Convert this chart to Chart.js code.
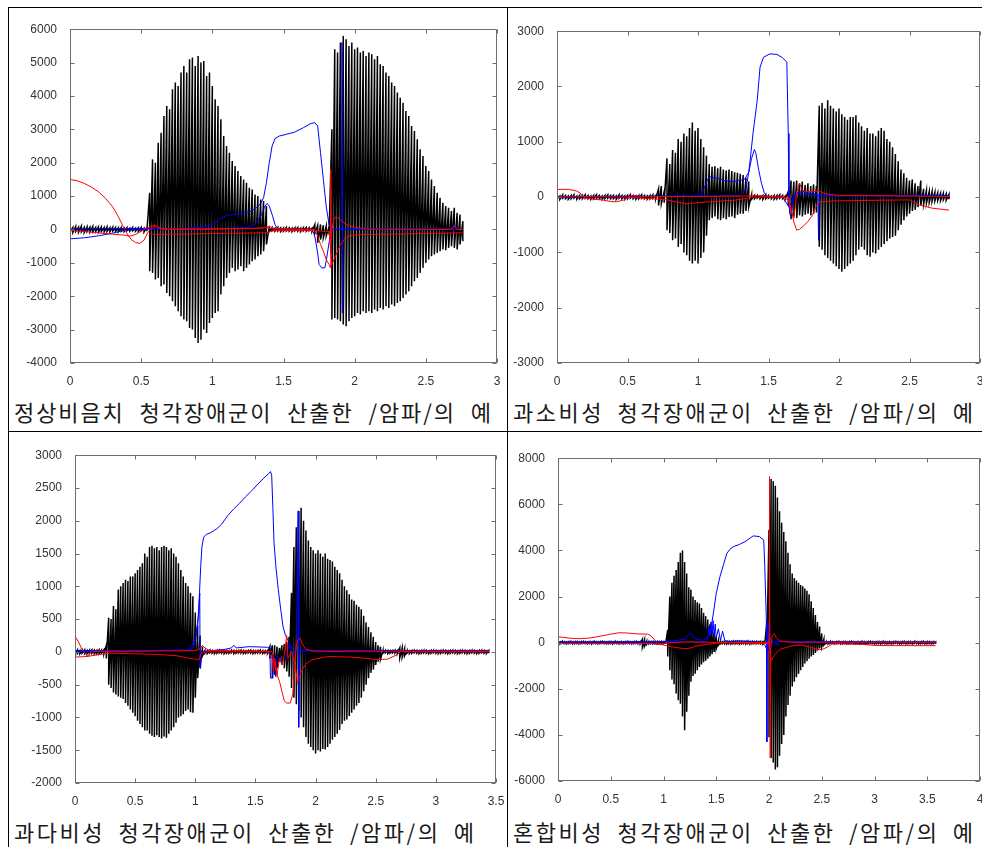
<!DOCTYPE html>
<html>
<head>
<meta charset="utf-8">
<script src="https://cdn.jsdelivr.net/npm/chart.js@4.4.0/dist/chart.umd.min.js"></script>
<style>
  body { margin: 0; background: #fff; width: 982px; height: 847px; overflow: hidden; position: relative; }
  .rule { position: absolute; background: #000; }
  canvas { position: absolute; }
  .cap { position: absolute; font-family: "Noto Sans CJK KR", sans-serif; font-size: 22px; line-height: 24px;
         letter-spacing: 2.5px; word-spacing: 6px; color: #1a1a1a; white-space: nowrap; }
</style>
</head>
<body>
<div class="rule" style="left:8px;top:7px;width:974px;height:1px"></div>
<div class="rule" style="left:8px;top:431px;width:974px;height:1px"></div>
<div class="rule" style="left:8px;top:7px;width:1px;height:840px"></div>
<div class="rule" style="left:507px;top:7px;width:1px;height:840px"></div>
<div class="cap" style="left:14px;top:399px;letter-spacing:1.9px;word-spacing:8px">정상비음치 청각장애군이 산출한 /암파/의 예</div>
<div class="cap" style="left:513px;top:399px">과소비성 청각장애군이 산출한 /암파/의 예</div>
<div class="cap" style="left:14px;top:819px">과다비성 청각장애군이 산출한 /암파/의 예</div>
<div class="cap" style="left:513px;top:819px">혼합비성 청각장애군이 산출한 /암파/의 예</div>
<script>
// sample spacing of the waveform envelopes (seconds)
const waveStep = 0.02;

// ---- panel 1 : 정상비음치 ----
const p1Hi = [80,60,90,70,100,60,80,70,90,60,80,70,60,80,50,70,60,50,60,40,50,40,60,40,50,60,40,60,
  1100,2100,2000,2600,2900,3400,3700,3600,4200,4400,4300,4700,4900,4700,5100,5150,4900,5200,5000,5050,
  4600,4700,4300,3900,3700,3300,2800,2500,2300,2050,1900,1750,1600,1500,1400,1250,1200,1050,1000,900,850,700,
  80,50,40,60,50,40,60,50,40,50,60,40,50,60,50,40,150,120,150,130,100,80,
  3000,5400,5300,5600,5800,5700,5500,5600,5400,5450,5300,5350,5200,5300,5250,5100,5200,4950,4900,4700,
  4600,4400,4300,4100,3950,3800,3550,3400,3100,2950,2700,2400,2200,1900,1750,1500,1300,1100,950,800,
  700,650,550,650,500,450,250];
const p1Lo = [-70,-90,-60,-80,-70,-90,-60,-80,-70,-60,-80,-60,-70,-60,-70,-50,-60,-70,-50,-60,-40,-50,-40,-50,-60,-40,-80,-50,
  -1250,-1300,-1500,-1450,-1700,-1650,-1900,-2000,-2150,-2300,-2450,-2600,-2700,-2750,-2950,-3000,-3250,-3400,-3300,-3000,
  -3100,-2800,-2650,-2500,-2450,-1950,-1700,-1450,-1300,-1150,-1250,-1200,-1100,-1250,-1150,-1050,-950,-900,-800,-750,-650,-450,
  -60,-40,-50,-40,-60,-50,-40,-50,-60,-40,-50,-60,-40,-50,-40,-60,-120,-400,-300,-250,-200,-150,
  -2700,-2650,-2700,-2750,-2850,-2900,-2750,-2650,-2600,-2500,-2550,-2450,-2500,-2450,-2500,-2400,-2450,-2350,-2400,-2300,
  -2350,-2250,-2300,-2200,-2150,-2050,-1950,-1850,-1700,-1550,-1450,-1300,-1150,-1000,-900,-800,-750,-700,-650,-600,
  -620,-550,-500,-550,-600,-450,-350];
const p1BlueA = [[0,-280],[0.1,-250],[0.2,-190],[0.3,-110],[0.38,-30],[0.45,0],[0.6,20],[0.8,30],[0.9,60],[1.0,150],
  [1.05,300],[1.1,420],[1.18,470],[1.26,530],[1.3,620],[1.34,780],[1.36,950],[1.38,1400],[1.40,2000],[1.42,2500],
  [1.44,2720],[1.47,2800],[1.52,2850],[1.58,2920],[1.64,3050],[1.69,3170],[1.72,3200],[1.74,3100],[1.76,2300],
  [1.78,1500],[1.80,700],[1.82,150],[1.84,0],[2.0,20],[2.4,10],[2.76,0]];
const p1BlueB = [[0,20],[0.5,30],[1.0,20],[1.25,60],[1.30,150],[1.34,400],[1.37,700],[1.385,780],[1.40,700],[1.42,450],
  [1.44,150],[1.46,20],[1.70,10],[1.72,-200],[1.74,-700],[1.75,-1050],[1.77,-1150],[1.79,-1150],[1.80,-950],[1.82,-400],
  [1.84,0],[1.91,0],[1.911,5600],[1.913,-2500],[1.915,0],[2.2,10],[2.68,20],[2.70,150],[2.71,0],[2.76,10]];
const p1RedA = [[0,1500],[0.05,1460],[0.1,1380],[0.15,1270],[0.2,1130],[0.25,930],[0.3,680],[0.34,380],[0.37,120],
  [0.40,-120],[0.43,-300],[0.46,-390],[0.49,-420],[0.52,-320],[0.55,-60],[0.58,70],[0.61,100],[0.64,30],[0.7,10],
  [1.0,20],[1.3,30],[1.38,60],[1.42,20],[1.7,0]];
const p1RedB = [[0,-30],[0.1,-60],[0.2,-100],[0.3,-140],[0.38,-170],[0.42,-200],[0.46,-150],[0.5,-50],[0.54,50],
  [0.58,120],[0.6,130],[0.62,60],[0.66,10],[1.0,10],[1.35,40],[1.40,100],[1.44,20],[1.72,0],[1.74,-200],[1.76,-450],
  [1.78,-650],[1.80,-900],[1.82,-1050],[1.83,-1150],[1.831,1800],[1.833,-300],[1.85,250],[1.87,400],[1.90,280],
  [1.94,150],[2.0,60],[2.1,10],[2.68,0],[2.70,120],[2.72,0],[2.76,0]];
const p1RedC = [[0.56,-120],[0.6,-150],[0.8,-140],[1.0,-120],[1.2,-110],[1.38,-100],[1.42,-40],[1.7,-30],[1.82,-60],
  [1.84,-1050],[1.86,-850],[1.88,-650],[1.90,-450],[1.93,-280],[1.97,-180],[2.05,-150],[2.3,-140],[2.5,-120],[2.76,-100]];

// ---- panel 2 : 과소비성 ----
const p2Hi = [30,20,40,30,20,30,40,20,30,30,40,30,20,30,40,30,20,30,40,30,30,20,40,30,20,30,40,30,20,30,40,30,20,30,40,30,
  150,200,100,700,600,850,800,1050,1000,1150,1100,1250,1350,1200,1250,1050,900,750,600,550,
  560,520,550,500,480,500,470,450,440,420,400,350,280,
  40,30,30,20,30,40,30,20,30,30,40,30,20,
  100,300,280,300,250,280,220,250,200,230,200,
  1650,1700,1600,1750,1650,1600,1550,1600,1500,1450,1400,1450,1450,1480,1350,1280,1200,1250,1150,1150,
  1100,1200,1250,1200,1050,1000,900,780,650,500,430,350,300,320,250,200,300,150,120,100,100,90,80,70,70,60,50];
const p2Lo = [-30,-40,-20,-30,-40,-30,-20,-40,-30,-30,-20,-30,-40,-30,-20,-30,-40,-30,-20,-30,-30,-40,-20,-30,-40,-30,-20,-30,-40,-30,-20,-30,-40,-30,-20,-30,
  -150,-120,-100,-600,-650,-780,-750,-900,-850,-1000,-1050,-1150,-1200,-1150,-1200,-1100,-1000,-700,-420,-380,
  -350,-400,-420,-380,-400,-360,-350,-380,-320,-300,-300,-250,-180,
  -40,-30,-20,-30,-40,-30,-20,-30,-40,-30,-20,-30,-30,
  -150,-400,-350,-380,-330,-350,-320,-300,-330,-300,-280,
  -900,-950,-1050,-1100,-1150,-1200,-1250,-1300,-1350,-1300,-1250,-1200,-1150,-1050,-950,-900,-950,-1050,-1080,-1000,
  -1020,-950,-900,-850,-800,-750,-720,-700,-600,-500,-420,-350,-300,-250,-230,-180,-150,-130,-110,-100,-80,-70,-60,-60,-50,-60,-40];
const p2BlueA = [[0,10],[1.0,20],[1.30,30],[1.34,150],[1.36,450],[1.37,670],[1.39,1150],[1.42,1750],[1.44,2350],
  [1.465,2530],[1.51,2590],[1.56,2580],[1.60,2520],[1.63,2440],[1.64,1150],[1.645,0],[1.65,-300],[1.66,-350],
  [1.67,-100],[1.70,80],[1.75,100],[1.80,60],[1.85,50],[1.855,-780],[1.86,0],[1.9,30],[2.3,30],[2.78,30]];
const p2BlueB = [[0,0],[0.7,10],[1.0,20],[1.03,80],[1.05,200],[1.07,330],[1.09,370],[1.12,350],[1.16,320],[1.20,290],
  [1.25,280],[1.30,300],[1.33,320],[1.36,450],[1.38,700],[1.40,860],[1.41,800],[1.43,500],[1.45,250],[1.47,80],
  [1.49,10],[1.6,0],[1.65,-200],[1.68,50],[1.75,60],[1.85,30],[2.0,20],[2.78,20]];
const p2RedA = [[0,140],[0.08,140],[0.14,110],[0.17,60],[0.2,-20],[0.26,-40],[0.32,-50],[0.38,-80],[0.42,-85],
  [0.47,-55],[0.52,20],[0.55,30],[0.6,10],[1.0,10],[1.37,20],[1.4,30],[1.6,0],[1.64,-50],[1.66,-250],[1.68,-380],
  [1.69,-150],[1.70,100],[1.72,250],[1.74,120],[1.78,100],[1.82,100],[1.86,110],[1.9,60],[2.0,30],[2.5,20],[2.78,10]];
const p2RedB = [[0,0],[0.2,10],[0.5,0],[0.78,-50],[0.85,-90],[0.92,-120],[1.0,-100],[1.1,-80],[1.25,-60],[1.35,-20],
  [1.38,0],[1.64,0],[1.66,-200],[1.68,-450],[1.70,-600],[1.72,-580],[1.75,-520],[1.78,-440],[1.81,-340],[1.84,-150],
  [1.86,-90],[1.95,-70],[2.2,-60],[2.5,-50],[2.57,-140],[2.66,-200],[2.78,-235]];

// ---- panel 3 : 과다비성 ----
const p3Hi = [25,30,20,25,30,20,25,30,25,20,30,25,30,
  100,520,500,700,650,950,1000,1050,1100,1080,1150,1150,1200,1250,1300,1350,1500,1450,1600,1620,
  1580,1600,1550,1600,1620,1600,1550,1580,1500,1450,1350,1250,1150,1050,1000,900,850,600,400,250,80,
  20,15,25,20,15,20,25,15,20,20,15,25,20,15,20,25,20,15,20,25,20,15,20,25,20,15,20,
  80,100,100,80,60,100,120,150,230,900,1600,1900,2150,2200,2000,1850,1700,1600,1550,1500,
  1550,1500,1450,1500,1420,1400,1380,1300,1250,1200,1100,1000,940,880,800,780,720,690,650,550,
  450,380,300,230,150,100,80,
  20,25,20,15,20,25,20,60,60,50,20,15,20,25,20,15,20,25,20,15,20,25,20,15,20,25,20,15,20,25,
  20,15,20,25,20,15,20,25,20,15,20,25,20,15,20];
const p3Lo = [-30,-25,-30,-20,-25,-30,-25,-20,-30,-25,-30,-20,-30,
  -100,-500,-550,-620,-650,-680,-700,-720,-780,-820,-880,-930,-980,-1050,-1100,-1150,-1200,-1200,-1250,-1280,
  -1300,-1270,-1300,-1320,-1290,-1310,-1250,-1200,-1150,-1080,-1000,-980,-950,-900,-880,-920,-930,-700,-400,-250,-60,
  -20,-25,-15,-20,-25,-20,-15,-20,-25,-20,-20,-15,-25,-20,-15,-20,-25,-20,-15,-20,-25,-20,-15,-20,-25,-20,-15,
  -100,-400,-350,-250,-150,-200,-250,-300,-380,-550,-700,-800,-900,-1000,-1150,-1300,-1400,-1450,-1500,-1550,
  -1500,-1520,-1480,-1490,-1450,-1400,-1340,-1300,-1250,-1190,-1100,-1050,-1030,-980,-930,-880,-820,-780,-700,-600,
  -500,-400,-320,-270,-200,-150,-110,
  -20,-15,-25,-20,-15,-20,-25,-90,-80,-60,-20,-25,-20,-15,-20,-25,-20,-15,-20,-25,-20,-15,-20,-25,-20,-15,-20,-25,-20,-15,
  -20,-25,-20,-15,-20,-25,-20,-15,-20,-25,-20,-15,-20,-25,-20];
const p3BlueA = [[0,20],[0.5,20],[0.95,30],[0.98,60],[1.0,150],[1.02,400],[1.035,900],[1.045,1300],[1.055,1600],
  [1.07,1750],[1.09,1790],[1.13,1820],[1.18,1880],[1.22,1950],[1.27,2080],[1.32,2180],[1.37,2270],[1.42,2370],
  [1.47,2460],[1.52,2560],[1.57,2650],[1.61,2720],[1.625,2750],[1.635,2700],[1.645,2200],[1.655,1650],[1.67,1300],
  [1.69,950],[1.71,650],[1.73,380],[1.75,250],[1.78,150],[1.80,50],[1.83,0],[2.0,20],[3.44,20]];
const p3BlueB = [[0,0],[0.3,10],[0.95,20],[1.0,200],[1.03,600],[1.037,900],[1.04,-250],[1.045,0],[1.1,10],[1.25,40],
  [1.30,60],[1.32,100],[1.34,60],[1.45,80],[1.6,70],[1.62,60],[1.625,-400],[1.64,-400],[1.645,-50],[1.66,-100],
  [1.67,-380],[1.68,-50],[1.72,-150],[1.75,-100],[1.78,100],[1.81,-50],[1.84,30],[1.855,2150],[1.86,-1150],
  [1.865,0],[1.9,30],[2.1,10],[2.5,20],[3.44,20]];
const p3RedA = [[0,240],[0.03,150],[0.06,30],[0.09,-40],[0.11,-70],[0.13,0],[0.2,10],[0.5,10],[1.0,20],[1.04,50],
  [1.06,100],[1.08,60],[1.12,20],[1.6,10],[1.64,0],[1.66,-200],[1.68,-350],[1.70,-450],[1.72,-600],[1.74,-750],
  [1.76,-780],[1.79,-780],[1.81,-650],[1.82,-400],[1.83,-100],[1.84,80],[1.85,180],[1.87,210],[1.89,120],[1.92,40],
  [1.98,10],[2.5,10],[3.44,10]];
const p3RedB = [[0,-80],[0.1,-70],[0.2,-40],[0.3,-20],[0.5,-30],[0.7,-40],[0.85,-60],[0.95,-100],[1.0,-110],
  [1.03,-120],[1.05,-20],[1.1,0],[1.6,0],[1.64,-100],[1.65,-300],[1.66,-100],[1.68,-350],[1.70,-100],[1.72,-200],
  [1.74,-50],[1.76,250],[1.77,-100],[1.8,0],[1.83,-200],[1.85,-480],[1.88,-300],[1.92,-180],[1.97,-120],[2.1,-70],
  [2.3,-80],[2.43,-100],[2.5,-120],[2.6,-110],[2.68,-40],[2.72,30],[2.74,0],[3.44,0]];

// ---- panel 4 : 혼합비성 ----
const p4Hi = [40,30,50,40,30,40,50,30,40,40,30,40,50,40,30,40,30,50,40,30,40,50,40,30,40,40,30,50,40,30,40,30,40,50,40,30,40,50,30,40,
  150,120,60,50,40,50,40,50,40,50,40,50,
  550,2000,2600,2900,3150,3500,3900,4000,3500,3000,2400,2300,2000,1850,1750,1700,1500,1300,1150,1000,800,600,450,300,100,
  50,40,50,40,50,40,60,40,50,40,50,40,50,60,40,50,40,50,40,50,40,60,
  900,4900,7100,7000,6800,6300,5700,5200,4800,4400,3900,3400,3000,2800,2700,2600,2500,2450,2350,2250,
  2100,1800,1500,1200,900,700,400,150,
  40,30,50,40,30,40,50,30,40,40,30,40,50,40,30,40,30,50,40,30,40,50,40,30,40,40,30,50,40,30,
  40,30,40,50,40,30,40,50,30,40,40,30,50,40,30,40,50,30,40,40,30,40,30];
const p4Lo = [-40,-50,-30,-40,-50,-40,-30,-50,-40,-40,-50,-40,-30,-40,-50,-40,-50,-30,-40,-50,-40,-30,-40,-50,-40,-40,-50,-30,-40,-50,-40,-50,-40,-30,-40,-50,-40,-30,-50,-40,
  -200,-150,-80,-50,-40,-50,-40,-50,-40,-50,-40,-50,
  -600,-1200,-1600,-1800,-2200,-2500,-2650,-3200,-3800,-3000,-2300,-1700,-1450,-1350,-1200,-1050,-950,-850,-780,-700,-600,-500,-400,-250,-100,
  -50,-40,-50,-60,-40,-50,-40,-50,-40,-60,-50,-40,-50,-40,-60,-50,-40,-50,-40,-50,-60,-40,
  -400,-4100,-5000,-5200,-5500,-5400,-4900,-4400,-4000,-3200,-2700,-2300,-1900,-1700,-1500,-1350,-1200,-1050,-900,-800,
  -700,-600,-530,-450,-350,-250,-180,-100,
  -40,-50,-30,-40,-50,-40,-30,-50,-40,-40,-50,-40,-30,-40,-50,-40,-50,-30,-40,-50,-40,-30,-40,-50,-40,-40,-50,-30,-40,-50,
  -40,-50,-40,-30,-40,-50,-40,-30,-50,-40,-40,-50,-30,-40,-50,-40,-30,-50,-40,-40,-50,-40,-50];
const p4BlueA = [[0,0],[0.5,20],[1.0,30],[1.40,40],[1.43,300],[1.46,900],[1.48,1500],[1.50,2140],[1.535,2860],
  [1.57,3400],[1.60,3870],[1.63,4050],[1.66,4160],[1.72,4260],[1.78,4400],[1.85,4630],[1.91,4600],[1.95,4450],
  [1.96,3300],[1.975,980],[1.98,-4300],[1.985,0],[2.0,800],[2.01,0],[2.1,50],[3.0,30],[3.58,30]];
const p4BlueB = [[0,30],[0.8,30],[1.0,40],[1.1,80],[1.2,150],[1.24,350],[1.26,400],[1.28,250],[1.32,150],[1.38,100],
  [1.42,300],[1.43,700],[1.44,300],[1.45,900],[1.46,400],[1.47,950],[1.48,300],[1.49,800],[1.50,200],[1.52,600],
  [1.54,100],[1.56,500],[1.58,100],[1.62,50],[1.7,80],[1.8,60],[1.9,30],[1.96,-100],[1.99,-400],[2.01,200],
  [2.03,100],[2.06,-100],[2.1,50],[2.3,0],[3.0,0],[3.58,0]];
const p4RedA = [[0,250],[0.05,230],[0.1,200],[0.2,170],[0.3,200],[0.4,280],[0.5,370],[0.58,430],[0.65,420],[0.75,380],
  [0.85,370],[0.88,300],[0.91,150],[0.94,0],[0.97,-60],[1.0,-50],[1.05,0],[1.2,30],[1.5,10],[2.0,0],[2.005,7200],
  [2.01,-5000],[2.015,-300],[2.03,300],[2.05,380],[2.07,200],[2.1,80],[2.2,20],[2.6,20],[3.58,20]];
const p4RedB = [[0,-30],[0.5,-30],[0.9,-40],[1.0,-100],[1.1,-200],[1.2,-260],[1.25,-240],[1.3,-160],[1.4,-80],
  [1.5,-20],[1.6,0],[2.0,-50],[2.02,-800],[2.05,-550],[2.1,-300],[2.2,-150],[2.3,-100],[2.38,-180],[2.45,-280],
  [2.5,-300],[2.55,-200],[2.6,-50],[2.7,-50],[2.9,-80],[3.0,-120],[3.2,-130],[3.58,-130]];

// plot-area boxes in page pixels, and axis ranges
const panels = [
  { L: 70,  T: 29,  R: 497, B: 363, xMax: 3,   yMin: -4000, yMax: 6000, yStep: 1000,
    hi: p1Hi, lo: p1Lo, blues: [p1BlueA, p1BlueB], reds: [p1RedA, p1RedB, p1RedC] },
  { L: 557, T: 31,  R: 980, B: 363, xMax: 3,   yMin: -3000, yMax: 3000, yStep: 1000,
    hi: p2Hi, lo: p2Lo, blues: [p2BlueA, p2BlueB], reds: [p2RedA, p2RedB] },
  { L: 75,  T: 455, R: 496, B: 783, xMax: 3.5, yMin: -2000, yMax: 3000, yStep: 500,
    hi: p3Hi, lo: p3Lo, blues: [p3BlueA, p3BlueB], reds: [p3RedA, p3RedB] },
  { L: 558, T: 458, R: 980, B: 781, xMax: 4,   yMin: -6000, yMax: 8000, yStep: 2000,
    hi: p4Hi, lo: p4Lo, blues: [p4BlueA, p4BlueB], reds: [p4RedA, p4RedB] }
];

const AXIS_W = 62, AXIS_H = 26, PAD_T = 12, PAD_R = 14;

/**
 * Full box around the plot with MATLAB style inward ticks on all four sides.
 */
const boxTicks = {
  id: 'boxTicks',
  afterDraw(chart) {
    const { ctx, chartArea: a, scales: { x, y } } = chart;
    const l = Math.round(a.left) + 0.5, r = Math.round(a.right) - 0.5;
    const t = Math.round(a.top) + 0.5, b = Math.round(a.bottom) - 0.5;
    ctx.save();
    ctx.strokeStyle = '#6e6e6e';
    ctx.lineWidth = 1;
    ctx.strokeRect(l, t, r - l, b - t);
    ctx.beginPath();
    x.ticks.forEach(tk => {
      const px = Math.round(x.getPixelForValue(tk.value)) + 0.5;
      ctx.moveTo(px, b); ctx.lineTo(px, b - 4);
      ctx.moveTo(px, t); ctx.lineTo(px, t + 4);
    });
    y.ticks.forEach(tk => {
      const py = Math.round(y.getPixelForValue(tk.value)) + 0.5;
      ctx.moveTo(l, py); ctx.lineTo(l + 4, py);
      ctx.moveTo(r, py); ctx.lineTo(r - 4, py);
    });
    ctx.stroke();
    ctx.restore();
  }
};

// waveform: a vertical stroke from each upper to lower envelope sample
function waveData(hi, lo) {
  const pts = [];
  hi.forEach((h, i) => {
    pts.push({ x: i * waveStep, y: h }, { x: i * waveStep, y: lo[i] });
  });
  return pts;
}

const toXY = arr => arr.map(([x, y]) => ({ x, y }));

function line(data, color, width) {
  return { data, borderColor: color, borderWidth: width || 1, pointRadius: 0, showLine: true, tension: 0, fill: false };
}

panels.forEach(p => {
  const cv = document.createElement('canvas');
  const w = p.R - p.L + AXIS_W + PAD_R, h = p.B - p.T + PAD_T + AXIS_H;
  cv.width = w; cv.height = h;
  cv.style.left = (p.L - AXIS_W) + 'px';
  cv.style.top = (p.T - PAD_T) + 'px';
  cv.style.width = w + 'px'; cv.style.height = h + 'px';
  document.body.appendChild(cv);

  // red first so it ends up on top, waveform last so it sits underneath
  const datasets = [
    ...p.reds.map(r => line(toXY(r), 'rgb(255,0,0)')),
    ...p.blues.map(b => line(toXY(b), 'rgb(0,0,255)')),
    line(waveData(p.hi, p.lo), '#000', 1.5)
  ];

  const tickFont = { family: '"Liberation Sans", Arial, sans-serif', size: 12 };

  new Chart(cv.getContext('2d'), {
    type: 'scatter',
    data: { datasets },
    plugins: [boxTicks],
    options: {
      responsive: false,
      animation: false,
      devicePixelRatio: 1,
      layout: { padding: { top: PAD_T, right: PAD_R, left: 0, bottom: 0 } },
      plugins: { legend: { display: false }, tooltip: { enabled: false } },
      scales: {
        x: {
          type: 'linear', min: 0, max: p.xMax,
          grid: { display: false }, border: { display: false },
          ticks: { stepSize: 0.5, autoSkip: false, maxRotation: 0, padding: 3, color: '#333',
                   font: tickFont, callback: v => String(v) },
          afterFit: s => { s.height = AXIS_H; }
        },
        y: {
          min: p.yMin, max: p.yMax,
          grid: { display: false }, border: { display: false },
          ticks: { stepSize: p.yStep, autoSkip: false, padding: 5, color: '#333',
                   font: tickFont, callback: v => String(v) },
          afterFit: s => { s.width = AXIS_W; }
        }
      }
    }
  });
});
</script>
</body>
</html>
